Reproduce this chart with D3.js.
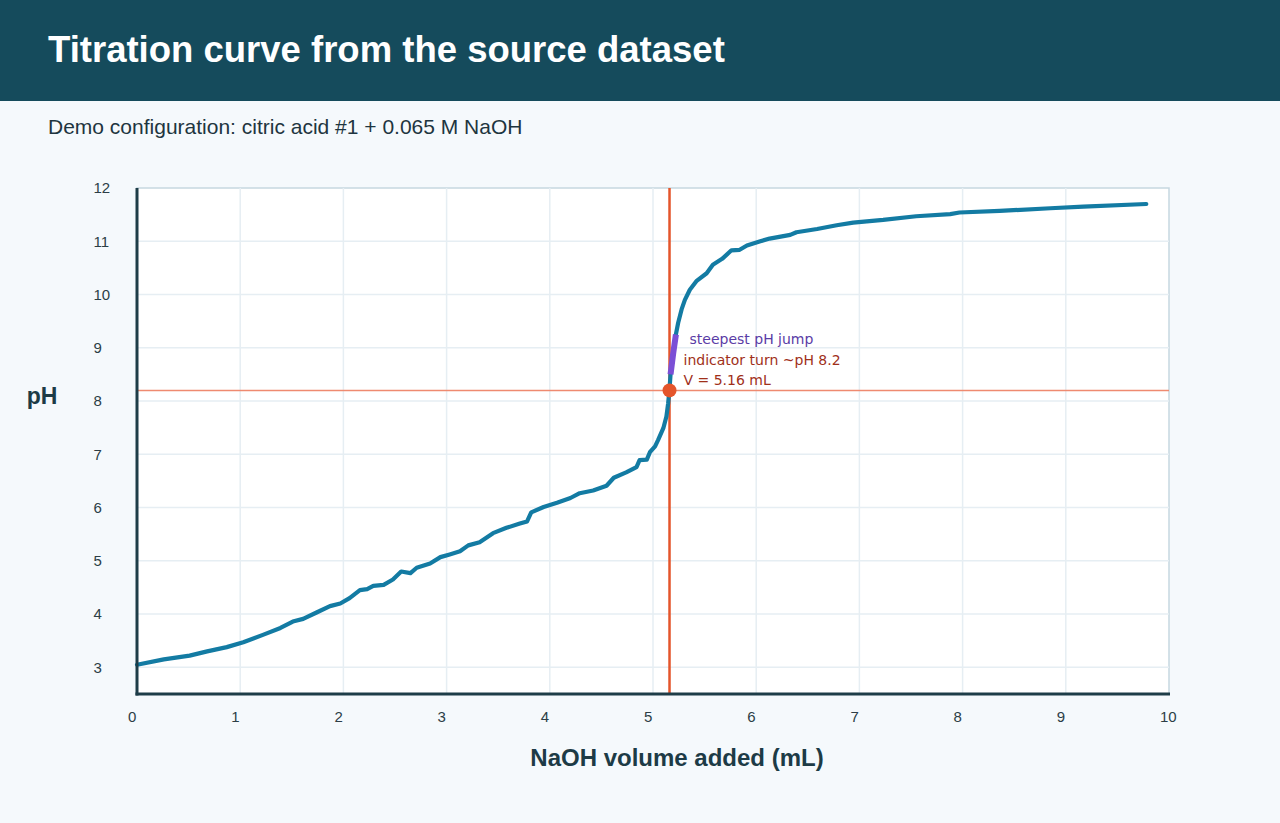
<!DOCTYPE html>
<html>
<head>
<meta charset="utf-8">
<title>Titration curve</title>
<script src="https://cdn.jsdelivr.net/npm/d3@7"></script>
<style>
  body { margin: 0; background: #f5f9fc; }
  #chart { width: 1280px; height: 823px; }
</style>
</head>
<body>
<div id="chart"></div>
<script>
// titration data
var volume = [0.00, 0.26, 0.51, 0.68, 0.87, 1.03, 1.22, 1.39, 1.51, 1.61,
  1.74, 1.87, 1.97, 2.06, 2.16, 2.23, 2.29, 2.39, 2.48, 2.56,
  2.65, 2.71, 2.84, 2.94, 3.03, 3.13, 3.21, 3.32, 3.45, 3.58,
  3.71, 3.78, 3.82, 3.94, 4.07, 4.20, 4.29, 4.42, 4.55, 4.62,
  4.74, 4.84, 4.87, 4.94, 4.97, 5.02, 5.05, 5.10, 5.13, 5.147,
  5.159, 5.170, 5.196, 5.222, 5.244, 5.277, 5.309, 5.357, 5.42, 5.52,
  5.58, 5.67, 5.76, 5.84, 5.91, 6.04, 6.13, 6.33, 6.39, 6.59,
  6.78, 6.94, 7.23, 7.55, 7.88, 7.97, 8.36, 8.85, 9.17, 9.78];
var ph = [3.05, 3.15, 3.22, 3.30, 3.38, 3.47, 3.61, 3.74, 3.86, 3.91,
  4.03, 4.15, 4.20, 4.30, 4.45, 4.47, 4.53, 4.55, 4.65, 4.80,
  4.77, 4.87, 4.95, 5.07, 5.12, 5.18, 5.29, 5.35, 5.52, 5.62,
  5.70, 5.74, 5.91, 6.01, 6.09, 6.18, 6.27, 6.32, 6.41, 6.56,
  6.66, 6.76, 6.89, 6.90, 7.04, 7.15, 7.27, 7.49, 7.71, 7.96,
  8.20, 8.50, 8.90, 9.25, 9.47, 9.72, 9.90, 10.09, 10.25, 10.40,
  10.56, 10.67, 10.83, 10.84, 10.92, 11.00, 11.05, 11.12, 11.17, 11.23,
  11.30, 11.35, 11.40, 11.47, 11.51, 11.54, 11.57, 11.62, 11.65, 11.70];

// steepest jump segment
var steepVolume = [5.170, 5.196, 5.222];
var steepPh = [8.50, 8.90, 9.25];

var endpointVolume = 5.16;
var indicatorPh = 8.2;

var xTicks = [0, 1, 2, 3, 4, 5, 6, 7, 8, 9, 10];
var yTicks = [3, 4, 5, 6, 7, 8, 9, 10, 11, 12];

var width = 1280;
var height = 823;

// plot box (pixels)
var plotLeft = 137, plotRight = 1169, plotTop = 188, plotBottom = 694;

var svg = d3.select("#chart")
  .append("svg")
  .attr("width", width)
  .attr("height", height);

svg.append("rect")
  .attr("width", width).attr("height", height)
  .attr("fill", "#f5f9fc");

// header band
svg.append("rect")
  .attr("width", width).attr("height", 101)
  .attr("fill", "#154b5c");

svg.append("text")
  .attr("x", 48).attr("y", 62)
  .attr("font-family", "Liberation Sans, Arial, sans-serif")
  .attr("font-weight", "bold")
  .attr("font-size", 36.5)
  .attr("fill", "#ffffff")
  .text("Titration curve from the source dataset");

svg.append("text")
  .attr("x", 48).attr("y", 134)
  .attr("font-family", "Liberation Sans, Arial, sans-serif")
  .attr("font-size", 21)
  .attr("fill", "#1e3540")
  .text("Demo configuration: citric acid #1 + 0.065 M NaOH");

// scales
var xscale = d3.scaleLinear().domain([0, 10]).range([plotLeft, plotRight]);
var yscale = d3.scaleLinear().domain([2.5, 12]).range([plotBottom, plotTop]);

// plot area
svg.append("rect")
  .attr("x", plotLeft).attr("y", plotTop)
  .attr("width", plotRight - plotLeft).attr("height", plotBottom - plotTop)
  .attr("fill", "#ffffff")
  .attr("stroke", "#c6d7e0")
  .attr("stroke-width", 1.5);

// grid
svg.append("g")
  .selectAll("line")
  .data(xTicks.slice(1, -1))
  .enter().append("line")
  .attr("x1", function(d) { return xscale(d); })
  .attr("x2", function(d) { return xscale(d); })
  .attr("y1", plotTop).attr("y2", plotBottom)
  .attr("stroke", "#e6eef3").attr("stroke-width", 1.5);

svg.append("g")
  .selectAll("line")
  .data(yTicks.slice(0, -1))
  .enter().append("line")
  .attr("y1", function(d) { return yscale(d); })
  .attr("y2", function(d) { return yscale(d); })
  .attr("x1", plotLeft).attr("x2", plotRight)
  .attr("stroke", "#e6eef3").attr("stroke-width", 1.5);

// axes (labels only, lines drawn below)
var xAxis = d3.axisBottom(xscale).tickValues(xTicks).tickSize(0).tickPadding(17);
var yAxis = d3.axisLeft(yscale).tickValues(yTicks).tickSize(0).tickPadding(0);

var gx = svg.append("g")
  .attr("transform", "translate(0," + plotBottom + ")")
  .attr("font-size", 15)
  .call(xAxis);
gx.select(".domain").remove();
gx.selectAll("text")
  .attr("text-anchor", "start")
  .attr("dx", -9.5)
  .attr("font-family", "Liberation Sans, Arial, sans-serif")
  .attr("font-size", 15)
  .attr("fill", "#2c3e46");

var gy = svg.append("g")
  .attr("transform", "translate(" + plotLeft + ",0)")
  .call(yAxis);
gy.select(".domain").remove();
gy.selectAll("text")
  .attr("text-anchor", "start")
  .attr("x", -43.5)
  .attr("font-family", "Liberation Sans, Arial, sans-serif")
  .attr("font-size", 15)
  .attr("fill", "#2c3e46");

// reference lines
svg.append("line")
  .attr("x1", plotLeft).attr("x2", plotRight)
  .attr("y1", yscale(indicatorPh)).attr("y2", yscale(indicatorPh))
  .attr("stroke", "#ef8a70").attr("stroke-width", 1.5);

svg.append("line")
  .attr("x1", xscale(endpointVolume)).attr("x2", xscale(endpointVolume))
  .attr("y1", plotTop).attr("y2", plotBottom)
  .attr("stroke", "#e4552b").attr("stroke-width", 2.5);

// curve
var curve = volume.map(function(v, i) { return [v, ph[i]]; });
var line = d3.line()
  .x(function(d) { return xscale(d[0]); })
  .y(function(d) { return yscale(d[1]); });

svg.append("path")
  .datum(curve)
  .attr("d", line)
  .attr("fill", "none")
  .attr("stroke", "#137ba3")
  .attr("stroke-width", 4.2)
  .attr("stroke-linejoin", "round")
  .attr("stroke-linecap", "round");

var steep = steepVolume.map(function(v, i) { return [v, steepPh[i]]; });
svg.append("path")
  .datum(steep)
  .attr("d", line)
  .attr("fill", "none")
  .attr("stroke", "#7b4fd6")
  .attr("stroke-width", 6);

// axis lines on top
svg.append("line")
  .attr("x1", plotLeft).attr("x2", plotLeft)
  .attr("y1", plotTop).attr("y2", plotBottom + 1.5)
  .attr("stroke", "#1e3d48").attr("stroke-width", 3);
svg.append("line")
  .attr("x1", plotLeft - 1.5).attr("x2", plotRight + 1)
  .attr("y1", plotBottom).attr("y2", plotBottom)
  .attr("stroke", "#1e3d48").attr("stroke-width", 3);

// endpoint marker
svg.append("circle")
  .attr("cx", xscale(endpointVolume))
  .attr("cy", yscale(indicatorPh))
  .attr("r", 7)
  .attr("fill", "#e4552b");

// annotations
var notes = svg.append("g")
  .attr("font-family", "DejaVu Sans, sans-serif")
  .attr("font-size", 14);

notes.append("text")
  .attr("x", xscale(endpointVolume) + 20).attr("y", 344)
  .attr("fill", "#5a3ca6")
  .text("steepest pH jump");
notes.append("text")
  .attr("x", xscale(endpointVolume) + 14).attr("y", 365)
  .attr("fill", "#a0301a")
  .text("indicator turn ~pH 8.2");
notes.append("text")
  .attr("x", xscale(endpointVolume) + 14).attr("y", 385)
  .attr("fill", "#a0301a")
  .text("V = " + endpointVolume.toFixed(2) + " mL");

// axis titles
svg.append("text")
  .attr("x", 677).attr("y", 766)
  .attr("text-anchor", "middle")
  .attr("font-family", "Liberation Sans, Arial, sans-serif")
  .attr("font-weight", "bold")
  .attr("font-size", 24)
  .attr("fill", "#1d3b46")
  .text("NaOH volume added (mL)");

svg.append("text")
  .attr("x", 42).attr("y", 404)
  .attr("text-anchor", "middle")
  .attr("font-family", "Liberation Sans, Arial, sans-serif")
  .attr("font-weight", "bold")
  .attr("font-size", 23)
  .attr("fill", "#1d3b46")
  .text("pH");
</script>
</body>
</html>
